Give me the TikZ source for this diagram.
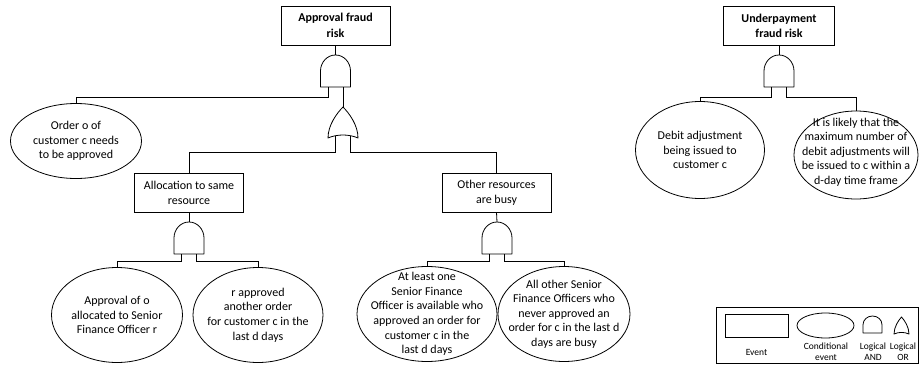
\documentclass[tikz,border=0pt]{standalone}
\usepackage{fontspec}
\setmainfont{Carlito}
\usetikzlibrary{shapes.geometric}
\tikzset{
  evbox/.style={draw, rectangle, minimum width=109pt, minimum height=39pt, inner sep=0pt, align=center, font=\fontsize{12}{15}\selectfont},
  condev/.style={draw, ellipse, inner sep=0pt},
  elltext/.style={align=center, font=\fontsize{12}{14.6}\selectfont, inner sep=0pt},
  gate/.style={draw, line width=0.8pt, line join=round},
  conn/.style={draw, line width=0.8pt},
  legtext/.style={align=center, font=\fontsize{9.5}{11}\selectfont, inner sep=0pt},
  andg/.pic={
    \draw[gate] (-15,32) -- (-15,16) .. controls (-15,7.2) and (-8.3,0) .. (0,0)
      .. controls (8.3,0) and (15,7.2) .. (15,16) -- (15,32) -- cycle;
    \coordinate (-out) at (0,0);
    \coordinate (-inL) at (-7.5,32);
    \coordinate (-inR) at (7.5,32);
  },
  org/.pic={
    \draw[gate] (0,0) .. controls (6,6) and (15,18) .. (15,31)
      .. controls (6,27) and (-6,27) .. (-15,31)
      .. controls (-15,18) and (-6,6) .. (0,0) -- cycle;
    \coordinate (-out) at (0,0);
    \coordinate (-inL) at (-7.5,28.6);
    \coordinate (-inR) at (7.5,28.6);
  },
}
\begin{document}
\begin{tikzpicture}[x=1pt, y=-1pt, line width=0.8pt]
\fill[white] (0,0) rectangle (919,367);
\useasboundingbox (0,0) rectangle (919,367);

% ---- Approval fraud risk tree ----
\node[evbox, font=\fontsize{12}{15.5}\selectfont\bfseries] (T1) at (335.5,25.5) {Approval fraud\\risk};
\pic (G1) at (335.5,55) {andg};
\node[condev, minimum width=131pt, minimum height=75pt,
  label={[elltext]center:{Order o of\\customer c needs\\to be approved}}] (E1) at (76,141) {};
\pic (G2) at (343,107) {org};
\node[evbox] (B1) at (189,192.5) {Allocation to same\\resource};
\node[evbox] (B2) at (496.5,192.5) {Other resources\\are busy};
\pic (G3) at (189,222) {andg};
\pic (G4) at (497,222) {andg};
\node[condev, minimum width=131pt, minimum height=95pt,
  label={[elltext]center:{Approval of o\\allocated to Senior\\Finance Officer r}}] (E2) at (117,315) {};
\node[condev, minimum width=130pt, minimum height=95pt,
  label={[elltext]center:{r approved\\another order\\for customer c in the\\last d days}}] (E3) at (258,315) {};
\node[condev, minimum width=140pt, minimum height=95pt,
  label={[elltext]center:{At least one\\Senior Finance\\Officer is available who\\approved an order for\\customer c in the\\last d days}}] (E4) at (427,314) {};
\node[condev, minimum width=132pt, minimum height=95pt,
  label={[elltext]center:{All other Senior\\Finance Officers who\\never approved an\\order for c in the last d\\days are busy}}] (E5) at (564,314) {};

\draw[conn] (T1.south) -- (G1-out);
\draw[conn] (G1-inL) -- ++(0,10) -| (E1.north);
\draw[conn] (G1-inR) -- (G2-out);
\draw[conn] (G2-inL) -- ++(0,16.4) -| (B1.north);
\draw[conn] (G2-inR) -- ++(0,16.4) -| (B2.north);
\draw[conn] (B1.south) -- (G3-out);
\draw[conn] (B2.south) -- (G4-out);
\draw[conn] (G3-inL) -- ++(0,7) -| (E2.north);
\draw[conn] (G3-inR) -- ++(0,7) -| (E3.north);
\draw[conn] (G4-inL) -- ++(0,7) -| (E4.north);
\draw[conn] (G4-inR) -- ++(0,7) -| (E5.north);

% ---- Underpayment fraud risk tree ----
\node[evbox, minimum width=111pt, font=\fontsize{12}{15}\selectfont\bfseries] (T2) at (779,25.5) {Underpayment\\fraud risk};
\pic (G5) at (779,55) {andg};
\node[condev, minimum width=129pt, minimum height=97pt,
  label={[elltext]center:{Debit adjustment\\being issued to\\customer c}}] (E6) at (700,150) {};
\node[condev, minimum width=124pt, minimum height=88pt,
  label={[elltext, yshift=3pt]center:{It is likely that the\\maximum number of\\debit adjustments will\\be issued to c within a\\d-day time frame}}] (E7) at (856,155) {};
\draw[conn] (T2.south) -- (G5-out);
\draw[conn] (G5-inL) -- ++(0,10) -| (E6.north);
\draw[conn] (G5-inR) -- ++(0,10) -| (E7.north);

% ---- Legend ----
\node[draw, rectangle, minimum width=202pt, minimum height=56pt, inner sep=0pt] (LG) at (817,335) {};
\node[draw, rectangle, minimum width=63pt, minimum height=23pt, inner sep=0pt] (LE) at (756.5,325.5) {};
\node[condev, minimum width=57pt, minimum height=25pt] (LC) at (825.5,325.5) {};
\pic[xscale=0.63, yscale=0.53] (LA) at (872.5,316) {andg};
\pic[xscale=0.5, yscale=0.55] (LO) at (901.5,317) {org};
\node[legtext] (LT1) at (756.5,352) {Event};
\node[legtext] (LT2) at (826,351.5) {Conditional\\event};
\node[legtext] (LT3) at (873,351.5) {Logical\\AND};
\node[legtext] (LT4) at (903,351.5) {Logical\\OR};
\end{tikzpicture}
\end{document}
